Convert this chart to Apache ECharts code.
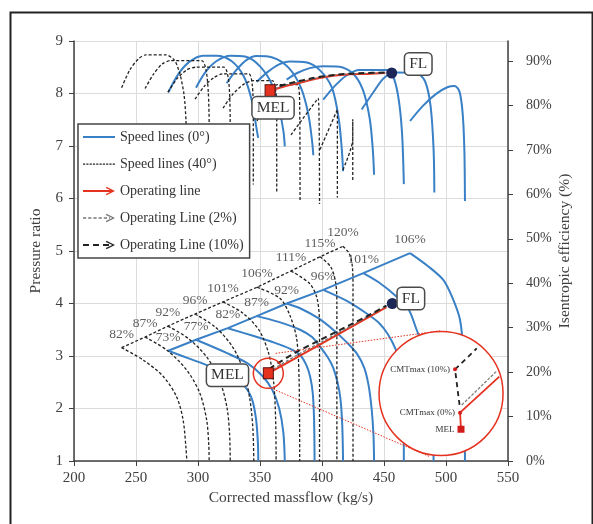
<!DOCTYPE html>
<html><head><meta charset="utf-8">
<script src="https://cdn.jsdelivr.net/npm/echarts@6/dist/echarts.min.js"></script>
<style>html,body{margin:0;padding:0;background:#fff}#c{width:593px;height:524px}</style>
</head><body><div id="c"></div><script>
// ---------- DATA ----------
const blueSpeedLabels = ['73%','77%','82%','87%','92%','96%','101%','106%'];
const dashedSpeedLabels = ['82%','87%','92%','96%','101%','106%','111%','115%','120%'];

// Pressure ratio speed lines, 0° (blue). First point of each = surge point.
const blueSpeedPR = [
  [[276.0,3.10],[293,2.95],[311,2.79],[326,2.62],[337,2.44],[343.5,2.18],[346.8,1.80],[348.3,1.35],[348.6,1.0]],
  [[298.4,3.31],[323,3.06],[340,2.86],[352,2.62],[360,2.35],[365.5,2.0],[368.8,1.55],[370,1.0]],
  [[324.0,3.53],[345,3.38],[362,3.25],[374,3.14],[382.3,3.02],[387.5,2.82],[390.5,2.6],[392.5,2.3],[393.6,1.8],[394,1.0]],
  [[347.3,3.76],[365,3.65],[382.3,3.50],[392,3.36],[398.4,3.18],[404.5,2.98],[409,2.78],[412.5,2.5],[414.8,2.2],[416.3,1.7],[417,1.0]],
  [[371.5,4.00],[382.3,3.91],[397,3.72],[409,3.50],[420,3.26],[428,3.05],[434,2.78],[437.5,2.45],[440,2.0],[441.5,1.5],[442,1.0]],
  [[401.0,4.26],[420,4.05],[436,3.81],[446,3.63],[453,3.42],[459,3.15],[463,2.85],[465.3,2.3],[466,1.0]],
  [[433.3,4.58],[446,4.40],[460.2,4.13],[470,3.88],[476.3,3.50],[482,3.15],[486.5,2.75],[489,2.2],[490,1.0]],
  [[471.0,4.96],[485,4.72],[497.8,4.45],[505,4.12],[511.3,3.69],[514,3.06],[515,2.2],[515.3,1.0]]
];
// Pressure ratio speed lines, 40° (dashed)
const dashedSpeedPR = [
  [[238.4,3.16],[256,2.92],[272,2.61],[282.8,2.22],[288,1.78],[290.3,1.25],[291,1.0]],
  [[257.3,3.36],[275,3.11],[291,2.73],[301.5,2.29],[307,1.78],[308.7,1.3],[309,1.0]],
  [[275.8,3.57],[293,3.32],[308,2.95],[318,2.5],[323.5,2.0],[325.5,1.5],[326,1.0]],
  [[297.6,3.80],[314,3.55],[328,3.17],[337,2.7],[342,2.15],[344.3,1.6],[345,1.0]],
  [[320.2,4.03],[336,3.82],[349,3.50],[357,3.05],[361,2.5],[362.6,1.8],[363,1.0]],
  [[347.6,4.31],[366,4.10],[374,3.78],[379.5,3.34],[381.5,2.58],[382,1.0]],
  [[375.0,4.62],[390,4.38],[396,4.10],[398,3.6],[398,1.0]],
  [[398.4,4.89],[407,4.70],[411,4.40],[412,4.0],[412,1.0]],
  [[416.9,5.09],[422,4.95],[424.5,4.70],[425,4.3],[425,1.0]]
];
// Isentropic efficiency (%) speed lines, 0° (blue)
const blueSpeedEff = [
  [[276.0,82.9],[284,87.0],[293,89.8],[304,91.2],[315,91.2],[327,90.0],[337,86.5],[343.5,81.0],[346.5,76.0],[348.5,72.7]],
  [[298.4,84.0],[306,87.5],[315,90.0],[326,91.2],[338,91.0],[350,88.8],[360,84.5],[366,78.5],[369,74.0],[370,70.8]],
  [[323.1,85.0],[331,88.0],[339,90.2],[347,91.1],[360,90.8],[373,88.5],[383,84.0],[389,78.0],[392,72.0],[393,68.8]],
  [[347.3,85.3],[356,87.5],[365,89.2],[374,89.9],[387,89.7],[398,88.0],[408,84.0],[413.5,77.0],[416,70.0],[417,65.2]],
  [[371.5,85.8],[380,87.3],[390,88.4],[401,88.8],[414,88.7],[425,87.2],[433,83.5],[438.5,77.0],[441,70.0],[442,64.4]],
  [[401.0,81.3],[410,84.3],[420,86.8],[430,88.0],[452,88.0],[457,86.8],[461.5,82.0],[464.5,74.0],[466,62.3]],
  [[432.0,79.1],[441,82.8],[450,86.2],[460,87.4],[476,87.3],[483,85.5],[487.5,80.0],[490,70.0],[490.6,60.4]],
  [[471.0,76.5],[481,79.8],[492,82.6],[501,84.1],[507,84.4],[511,83.0],[513.5,78.0],[514.8,70.0],[515.3,58.5]]
];
// Isentropic efficiency (%) speed lines, 40° (dashed)
const dashedSpeedEff = [
  [[238.4,84.0],[245,88.0],[252,90.5],[258,91.4],[274,91.4],[281,90.2],[285.5,87.0],[288.7,82.5],[290.3,76.5],[291,60.0]],
  [[257.3,83.8],[264,87.0],[271,89.3],[278,90.1],[303,90.1],[306.5,88.0],[308.3,83.0],[309,76.0],[309,60.0]],
  [[275.8,83.0],[283,86.0],[291,88.0],[298,88.6],[321,88.6],[324.5,86.0],[325.7,81.0],[326,74.0],[326,60.0]],
  [[297.6,81.4],[305,84.3],[313,86.3],[320,87.1],[341,87.1],[343.8,84.5],[344.6,79.0],[344.6,62.2]],
  [[320.2,79.4],[328,82.5],[337,84.8],[345,85.6],[360,85.6],[362.8,83.0],[363.5,77.0],[363.5,60.2]],
  [[347.6,76.5],[356,81.5],[364,84.7],[380,84.7],[382,80.0],[382.3,58.5]],
  [[375.0,73.4],[397,81.6],[398,57.8]],
  [[398.4,70.1],[412.4,79.1],[412.4,59.3]],
  [[416.9,65.5],[424.8,72.4],[424.8,76.9],[424.8,62.9]]
];
// Operating lines (efficiency map)
const opLineEff   = [[358.1,83.3],[370,84.3],[382.3,85.1],[395,86.0],[409.1,86.7],[422,87.0],[436,87.1],[451,87.3]];
const opLine2Eff  = [[358.1,83.5],[370,84.5],[382.3,85.3],[395,86.1],[409.1,86.8],[422,87.1],[436,87.2],[451,87.35]];
const opLine10Eff = [[358.1,83.7],[370,84.7],[385,85.7],[400,86.5],[420,87.1],[436,87.3],[451,87.4]];
// Operating lines (pressure ratio map)
const opLinePR   = [[356.7,2.67],[400,3.24],[452,3.93]];
const opLine2PR  = [[357.0,2.70],[380,3.02],[410,3.40],[452,3.95]];
const opLine10PR = [[357.5,2.75],[362,2.83],[379.6,3.08],[406.5,3.40],[433.3,3.72],[452,3.96]];
const melEff = [358.1,83.3], flEff = [456.2,87.3];
const melPR  = [356.7,2.67], flPR  = [456.7,4.00];
// zoom inset (own 0-100 frame)
const insetOpLine   = [[66.4,20.7],[65.6,34.3],[97.8,63.8]];
const insetOpLine2  = [[67.0,40.6],[95.7,68.4]];
const insetOpLine10 = [[65.2,40.6],[61.5,69.8],[79.3,87.0]];
const insetNames  = ['CMTmax (10%)','CMTmax (0%)','MEL'];
const insetPoints = [[61.5,69.8],[65.6,34.3],[66.4,20.7]];
const zoomCentre = [496.0,2.285];
const zoomFrom = [[362.6,3.05],[360.7,2.37]];
const zoomTo   = [[495.2,3.48],[487.1,1.08]];

// ---------- STYLE ----------
const BLUE = '#3a80c6', RED = '#e4321f', DARK = '#222', GREY = '#777', NAVY = '#1c2757';
const SERIF = 'Liberation Serif';
const TXT = '#333';

const series = [];
const lineS = (name, data, yIdx, style, extra) => Object.assign({
  type:'line', name, data, xAxisIndex:0, yAxisIndex:yIdx, symbol:'none', silent:true,
  lineStyle:style, itemStyle:{color:style.color}, z:2, animation:false
}, extra || {});
const blueStyle = {color:BLUE, width:2};
const dotStyle = {color:DARK, width:1.3, type:[3,2]};

blueSpeedPR.forEach(d => series.push(lineS('Speed lines (0°)', d, 0, blueStyle, {smooth:0.3})));
series.push(lineS('Speed lines (0°)', blueSpeedPR.map(d => d[0]), 0, blueStyle));
dashedSpeedPR.forEach(d => series.push(lineS('Speed lines (40°)', d, 0, dotStyle, {smooth:0.3})));
series.push(lineS('Speed lines (40°)', dashedSpeedPR.map(d => d[0]), 0, dotStyle));
blueSpeedEff.forEach(d => series.push(lineS('Speed lines (0°)', d, 1, blueStyle, {smooth:0.3})));
dashedSpeedEff.forEach(d => series.push(lineS('Speed lines (40°)', d, 1, dotStyle, {smooth:0.25})));

// speed labels
const labelS = (pts, texts) => ({
  type:'scatter', xAxisIndex:0, yAxisIndex:0, silent:true, symbolSize:1, z:4,
  itemStyle:{color:'rgba(0,0,0,0)'},
  data: pts.map((p,i) => ({value:p, label:{formatter:texts[i]}})),
  label:{show:true, position:'top', distance:6, fontSize:13.5, color:TXT, fontFamily:SERIF}
});
series.push(labelS(blueSpeedPR.map(d => d[0]), blueSpeedLabels));
series.push(labelS(dashedSpeedPR.map(d => d[0]), dashedSpeedLabels));

// operating lines
const opStyles = {
  'Operating line':       {color:RED, width:2},
  'Operating Line (2%)':  {color:GREY, width:1.3, type:[3,2]},
  'Operating Line (10%)': {color:DARK, width:2, type:[6,4]}
};
const arrowSym = 'path://M5,0 L10,9 L8.6,10 L5,3 L1.4,10 L0,9 Z';
function opLine(name, data, yIdx, smooth, z) {
  const st = opStyles[name];
  series.push(lineS(name, data, yIdx, st, {smooth, z}));
  series.push({type:'lines', name, coordinateSystem:'cartesian2d', xAxisIndex:0, yAxisIndex:yIdx,
    silent:true, z, symbol:['none', arrowSym], symbolSize:[10,9],
    lineStyle:{color:st.color, width:st.width, type:'solid', opacity:0},
    itemStyle:{color:st.color},
    data:[{coords:[data[data.length-2], data[data.length-1]]}]});
}
opLine('Operating line', opLineEff, 1, 0.4, 5);
opLine('Operating Line (2%)', opLine2Eff, 1, 0.4, 5);
opLine('Operating Line (10%)', opLine10Eff, 1, 0.4, 5);
opLine('Operating line', opLinePR, 0, 0, 5);
opLine('Operating Line (2%)', opLine2PR, 0, 0, 5);
opLine('Operating Line (10%)', opLine10PR, 0, 0, 5);

// zoom connectors and circles
zoomFrom.forEach((p,i) => series.push(lineS('zoom', [p, zoomTo[i]], 0, {color:RED, width:1, type:[1.5,1.5]}, {z:6})));
series.push({type:'scatter', xAxisIndex:0, yAxisIndex:0, silent:true, z:6, symbol:'circle', symbolSize:30,
  itemStyle:{color:'rgba(0,0,0,0)', borderColor:RED, borderWidth:1.5, opacity:1}, data:[melPR]});
series.push({type:'scatter', xAxisIndex:0, yAxisIndex:0, silent:true, z:8, symbol:'circle', symbolSize:124,
  itemStyle:{color:'#fff', borderColor:RED, borderWidth:1.5, opacity:1}, data:[zoomCentre]});

// MEL / FL markers with boxed labels
const boxLabel = {show:true, fontSize:15.5, fontFamily:SERIF, color:TXT, backgroundColor:'#fff',
  borderColor:'#4a4a4a', borderWidth:1.5, borderRadius:4, padding:[3,4,2,4]};
function marker(pt, yIdx, name, sym, size, color, lab) {
  series.push({type:'scatter', xAxisIndex:0, yAxisIndex:yIdx, silent:true, z:9, symbol:sym, symbolSize:size,
    itemStyle:{color, borderColor:'#5a0d0d', borderWidth:sym === 'rect' ? 1 : 0, opacity:1},
    label:Object.assign({}, boxLabel, lab, {formatter:name}), data:[pt]});
}
marker(melEff, 1, 'MEL', 'rect', [10,12], RED, {position:'bottom', distance:0, offset:[3,0]});
marker(flEff, 1, 'FL', 'circle', 11, NAVY, {position:'right', distance:8, offset:[0,-9]});
marker(melPR, 0, 'MEL', 'rect', [10,11], RED, {position:'left', distance:15, offset:[0,2]});
marker(flPR, 0, 'FL', 'circle', 11, NAVY, {position:'right', distance:0, offset:[0,-5]});

// inset content
const insetLine = (data, st) => ({type:'line', xAxisIndex:1, yAxisIndex:2, data, symbol:'none', silent:true, z:10,
  lineStyle:st, animation:false});
series.push(insetLine(insetOpLine2, {color:GREY, width:1.2, type:[3,1.5]}));
series.push(insetLine(insetOpLine, {color:RED, width:1.8}));
series.push(insetLine(insetOpLine10, {color:DARK, width:1.8, type:[5,4]}));
series.push({type:'scatter', xAxisIndex:1, yAxisIndex:2, silent:true, z:11,
  data: insetPoints.map((p,i) => ({value:p, name:insetNames[i],
    symbol: i === 2 ? 'rect' : 'circle', symbolSize: i === 2 ? 7 : 4})),
  itemStyle:{color:'#d21c1c', opacity:1},
  label:{show:true, position:'left', distance:3, formatter:'{b}', fontSize:9, fontFamily:SERIF, color:'#333'}});

// legend icons (32 x 10 box, corner anchors keep the scale)
const A = 'M0,0h0.1v0.1h-0.1z M31.9,9.9h0.1v0.1h-0.1z ';
const dashes = (w, gap, y, h, end) => { let s=''; for (let x=0; x<end; x+=w+gap) s += `M${x},${y}h${Math.min(w,end-x)}v${h}h-${Math.min(w,end-x)}z `; return s; };
const chev = 'M23.5,0.8 L32,5 L23.5,9.2 L22.8,7.9 L29.3,5 L22.8,2.1 Z';
const legendData = [
  {name:'Speed lines (0°)', icon:'path://' + A + 'M0,4h32v2h-32z', itemStyle:{color:BLUE}},
  {name:'Speed lines (40°)', icon:'path://' + A + dashes(2.2,1.1,4.4,1.3,32), itemStyle:{color:DARK}},
  {name:'Operating line', icon:'path://' + A + 'M0,4.1h30v1.8h-30z ' + chev, itemStyle:{color:RED}},
  {name:'Operating Line (2%)', icon:'path://' + A + dashes(3.2,2,4.3,1.4,27) + chev, itemStyle:{color:GREY}},
  {name:'Operating Line (10%)', icon:'path://' + A + dashes(6,4,4,2,28) + chev, itemStyle:{color:DARK}}
];

const axisTxt = {fontSize:15, color:'#404040', fontFamily:SERIF};
const rightTxt = {fontSize:14, color:'#404040', fontFamily:SERIF};
const nameTxt = {fontSize:15.5, color:'#404040', fontFamily:SERIF};
const option = {
  animation:false,
  graphic:[{type:'rect', left:8, top:10, shape:{width:582, height:540}, style:{fill:'none', stroke:'#222', lineWidth:2}, silent:true, z:100}],
  legend:{data:legendData, orient:'vertical', left:78, top:124, itemWidth:32, itemHeight:10, itemGap:13,
    padding:[6,6,6,5], backgroundColor:'#fff', borderColor:'#444', borderWidth:1.5, borderRadius:0,
    textStyle:{fontFamily:SERIF, fontSize:14, color:TXT}, selectedMode:false, z:20},
  grid:[{left:74, right:85, top:41, bottom:63},
        {left:380, top:332.5, width:122, height:122}],
  xAxis:[
    {type:'value', gridIndex:0, min:200, max:550, interval:50, name:'Corrected massflow (kg/s)', nameLocation:'middle', nameGap:29,
     nameMoveOverlap:false,
     nameTextStyle:nameTxt, axisLabel:Object.assign({margin:10}, axisTxt),
     axisLine:{show:true, lineStyle:{color:'#404040', width:1.5}}, axisTick:{show:true, length:5, lineStyle:{color:'#404040'}},
     splitLine:{show:true, lineStyle:{color:'#dcdcdc', width:1}}},
    {type:'value', gridIndex:1, min:0, max:100, show:false}
  ],
  yAxis:[
    {type:'value', gridIndex:0, min:1, max:9, interval:1, name:'Pressure ratio', nameLocation:'middle', nameGap:30,
     nameMoveOverlap:false,
     nameTextStyle:nameTxt, axisLabel:Object.assign({margin:11}, axisTxt),
     axisLine:{show:true, lineStyle:{color:'#404040', width:1.5}}, axisTick:{show:true, length:5, lineStyle:{color:'#404040'}},
     splitLine:{show:true, lineStyle:{color:'#dcdcdc', width:1}}},
    {type:'value', gridIndex:0, position:'right', min:0, max:94.5, interval:10, name:'Isentropic efficiency (%)',
     nameLocation:'middle', nameGap:49, nameRotate:90, nameMoveOverlap:false, nameTextStyle:nameTxt,
     axisLabel:Object.assign({margin:18, formatter:'{value}%', showMaxLabel:false}, rightTxt),
     axisLine:{show:true, lineStyle:{color:'#404040', width:1.5}}, axisTick:{show:true, length:5, lineStyle:{color:'#404040'}},
     splitLine:{show:false}},
    {type:'value', gridIndex:1, min:0, max:100, show:false}
  ],
  series
};
const chart = echarts.init(document.getElementById('c'));
chart.setOption(option);
</script></body></html>
